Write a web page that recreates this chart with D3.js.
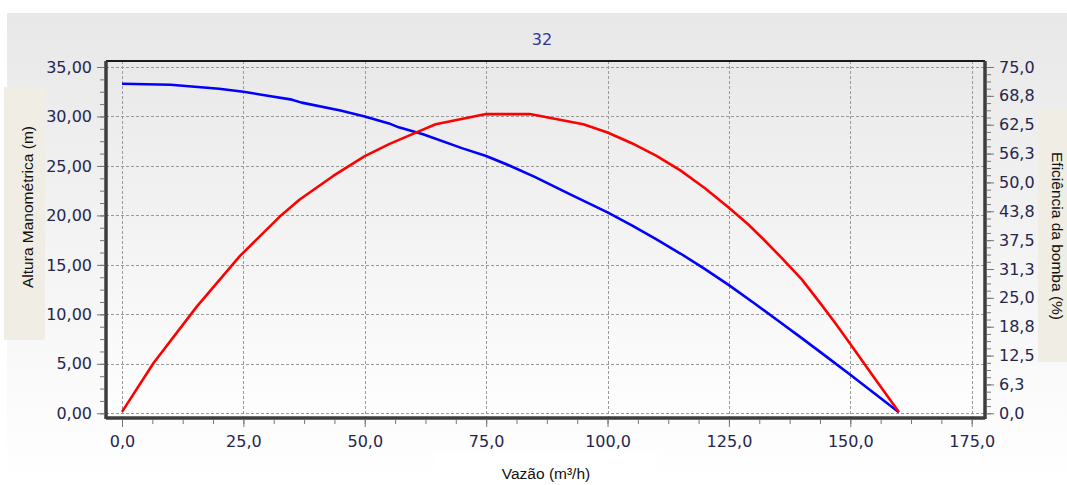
<!DOCTYPE html>
<html>
<head>
<meta charset="utf-8">
<script src="https://cdn.jsdelivr.net/npm/d3@7"></script>
<style>
  body { margin: 0; background: #fff; }
  .tick text { font-family: "DejaVu Sans", Verdana, sans-serif; font-size: 16px; fill: #26264d; }
  .aText { font-family: "Liberation Sans", Arial, sans-serif; font-size: 15.5px; fill: #111; }
</style>
</head>
<body>
<div id="chart"></div>
<script>
let svgWidth = 1067;
let svgHeight = 485;

// flow (m3/h) and head (m) - blue curve
let headFlow = [0, 10, 20, 25, 30, 35, 37, 45, 50, 55, 57, 62, 70, 75, 80, 85, 92, 100, 105, 110, 115, 120, 125, 130, 135, 140, 145, 150, 155, 160];
let headValues = [33.3, 33.2, 32.8, 32.5, 32.1, 31.7, 31.4, 30.6, 30.0, 29.3, 28.9, 28.2, 26.8, 26.0, 25.0, 23.9, 22.2, 20.3, 19.0, 17.6, 16.15, 14.6, 12.95, 11.2, 9.4, 7.6, 5.75, 3.9, 2.0, 0.1];

// flow (m3/h) and efficiency (%) - red curve
let effFlow = [0, 6.5, 15.4, 24.3, 32.5, 36.6, 43.5, 50, 55, 61, 64.6, 75, 84, 95, 100, 105, 110, 115, 120, 125, 129, 132, 136, 140, 144, 147, 150, 155, 160];
let effValues = [0.3, 10.9, 23.1, 34.1, 42.6, 46.3, 51.4, 55.7, 58.3, 61.0, 62.6, 64.8, 64.8, 62.6, 60.8, 58.5, 55.8, 52.6, 48.8, 44.5, 40.9, 37.8, 33.5, 29.0, 23.6, 19.4, 15.0, 7.6, 0.3];

let xTicks = [0, 25, 50, 75, 100, 125, 150, 175];
let leftTicks = [0, 5, 10, 15, 20, 25, 30, 35];
let rightTicks = [0, 6.25, 12.5, 18.75, 25, 31.25, 37.5, 43.75, 50, 56.25, 62.5, 68.75, 75];

let title = "32";
let xLabel = "Vazão (m³/h)";
let leftLabel = "Altura Manométrica (m)";
let rightLabel = "Eficiência da bomba (%)";

let plot = { left: 106, top: 61, right: 985, bottom: 418 };

let svg = d3.select("#chart")
            .append("svg")
            .attr("width", svgWidth)
            .attr("height", svgHeight);

let defs = svg.append("defs");
let bgGrad = defs.append("linearGradient").attr("id", "bgGrad")
    .attr("x1", 0).attr("y1", 0).attr("x2", 0).attr("y2", 1);
bgGrad.append("stop").attr("offset", "0%").attr("stop-color", "#e8e8e8");
bgGrad.append("stop").attr("offset", "100%").attr("stop-color", "#ffffff");
let plotGrad = defs.append("linearGradient").attr("id", "plotGrad")
    .attr("x1", 0).attr("y1", 0).attr("x2", 0).attr("y2", 1);
plotGrad.append("stop").attr("offset", "0%").attr("stop-color", "#e9e9e9");
plotGrad.append("stop").attr("offset", "100%").attr("stop-color", "#fefefe");

// Outer panel
svg.append("rect")
    .attr("x", 7).attr("y", 13)
    .attr("width", svgWidth - 7).attr("height", 470)
    .attr("fill", "url(#bgGrad)");

// Plot background
svg.append("rect")
    .attr("x", plot.left).attr("y", plot.top)
    .attr("width", plot.right - plot.left).attr("height", plot.bottom - plot.top)
    .attr("fill", "url(#plotGrad)");

// Scales
let xScale = d3.scaleLinear().domain([0, 175]).range([122, 971.7]);
let yLeft = d3.scaleLinear().domain([0, 35]).range([413.3, 67]);
let yRight = d3.scaleLinear().domain([0, 75]).range([413.3, 67]);

// Grid
let grid = svg.append("g")
    .attr("stroke", "#9a9a9a")
    .attr("stroke-width", 1)
    .attr("stroke-dasharray", "3,2");
grid.selectAll(".vg").data(xTicks).enter().append("line")
    .attr("x1", d => Math.round(xScale(d)) + 0.5).attr("x2", d => Math.round(xScale(d)) + 0.5)
    .attr("y1", plot.top).attr("y2", plot.bottom);
grid.selectAll(".hg").data(leftTicks).enter().append("line")
    .attr("x1", plot.left).attr("x2", plot.right)
    .attr("y1", d => Math.round(yLeft(d)) + 0.5).attr("y2", d => Math.round(yLeft(d)) + 0.5);

// Curves
let headLine = d3.line()
    .x((d, i) => xScale(headFlow[i]))
    .y(d => yLeft(d));
svg.append("path")
    .datum(headValues)
    .attr("d", headLine)
    .attr("fill", "none")
    .attr("stroke", "#0000ff")
    .attr("stroke-width", 2.6)
    .attr("stroke-linejoin", "round");

let effLine = d3.line()
    .x((d, i) => xScale(effFlow[i]))
    .y(d => yRight(d));
svg.append("path")
    .datum(effValues)
    .attr("d", effLine)
    .attr("fill", "none")
    .attr("stroke", "#ff0000")
    .attr("stroke-width", 2.6)
    .attr("stroke-linejoin", "round");

// Plot border
svg.append("line").attr("x1", plot.left).attr("x2", plot.right)
    .attr("y1", plot.top).attr("y2", plot.top)
    .attr("stroke", "#1a1a1a").attr("stroke-width", 2);
svg.append("line").attr("x1", plot.left).attr("x2", plot.left)
    .attr("y1", plot.top).attr("y2", plot.bottom + 1)
    .attr("stroke", "#3d3d3d").attr("stroke-width", 3.5);
svg.append("line").attr("x1", plot.right).attr("x2", plot.right)
    .attr("y1", plot.top).attr("y2", plot.bottom + 1)
    .attr("stroke", "#3d3d3d").attr("stroke-width", 3.5);
svg.append("line").attr("x1", plot.left).attr("x2", plot.right)
    .attr("y1", plot.bottom).attr("y2", plot.bottom)
    .attr("stroke", "#3d3d3d").attr("stroke-width", 3.5);

let fmt2 = d => d3.format(".2f")(d).replace(".", ",");
let fmt1 = d => d3.format(".1f")(d).replace(".", ",");

function styleAxis(g) {
    g.select(".domain").remove();
    g.selectAll(".tick line").attr("stroke", "#777");
}

// Minor ticks
let leftMinor = d3.range(0, 35.01, 1.25);
svg.append("g")
    .attr("transform", `translate(${plot.left - 2}, 0)`)
    .call(d3.axisLeft(yLeft).tickValues(leftMinor).tickSize(4).tickFormat(""))
    .call(styleAxis);
let rightMinor = d3.range(0, 75.01, 1.5625);
svg.append("g")
    .attr("transform", `translate(${plot.right + 2}, 0)`)
    .call(d3.axisRight(yRight).tickValues(rightMinor).tickSize(4).tickFormat(""))
    .call(styleAxis);
let xMinor = d3.range(0, 175.01, 6.25);
svg.append("g")
    .attr("transform", `translate(0, ${plot.bottom + 2})`)
    .call(d3.axisBottom(xScale).tickValues(xMinor).tickSize(4).tickFormat(""))
    .call(styleAxis);

// Major ticks and labels
svg.append("g")
    .attr("transform", `translate(${plot.left - 2}, 0)`)
    .call(d3.axisLeft(yLeft).tickValues(leftTicks).tickSize(7).tickPadding(5).tickFormat(fmt2))
    .call(styleAxis);
svg.append("g")
    .attr("transform", `translate(${plot.right + 2}, 0)`)
    .call(d3.axisRight(yRight).tickValues(rightTicks).tickSize(7).tickPadding(5).tickFormat(fmt1))
    .call(styleAxis);
svg.append("g")
    .attr("transform", `translate(0, ${plot.bottom + 2})`)
    .call(d3.axisBottom(xScale).tickValues(xTicks).tickSize(7).tickPadding(9).tickFormat(fmt1))
    .call(styleAxis);

// Title
svg.append("text")
    .attr("x", 542).attr("y", 45)
    .attr("text-anchor", "middle")
    .style("font-family", "DejaVu Sans, Verdana, sans-serif")
    .style("font-size", "16px")
    .style("fill", "#34349a")
    .text(title);

// Axis title boxes
svg.append("rect").attr("x", 4).attr("y", 87).attr("width", 41).attr("height", 253).attr("fill", "#efede4");
svg.append("text")
    .attr("class", "aText")
    .attr("transform", "translate(33, 207) rotate(-90)")
    .attr("text-anchor", "middle")
    .text(leftLabel);

svg.append("rect").attr("x", 1038).attr("y", 110).attr("width", 29).attr("height", 252).attr("fill", "#efede4");
svg.append("text")
    .attr("class", "aText")
    .attr("transform", "translate(1052, 236) rotate(90)")
    .attr("text-anchor", "middle")
    .text(rightLabel);

svg.append("rect").attr("x", 434).attr("y", 452).attr("width", 223).attr("height", 33).attr("fill", "#ffffff");
svg.append("text")
    .attr("class", "aText")
    .attr("x", 546).attr("y", 479)
    .attr("text-anchor", "middle")
    .text(xLabel);
</script>
</body>
</html>
